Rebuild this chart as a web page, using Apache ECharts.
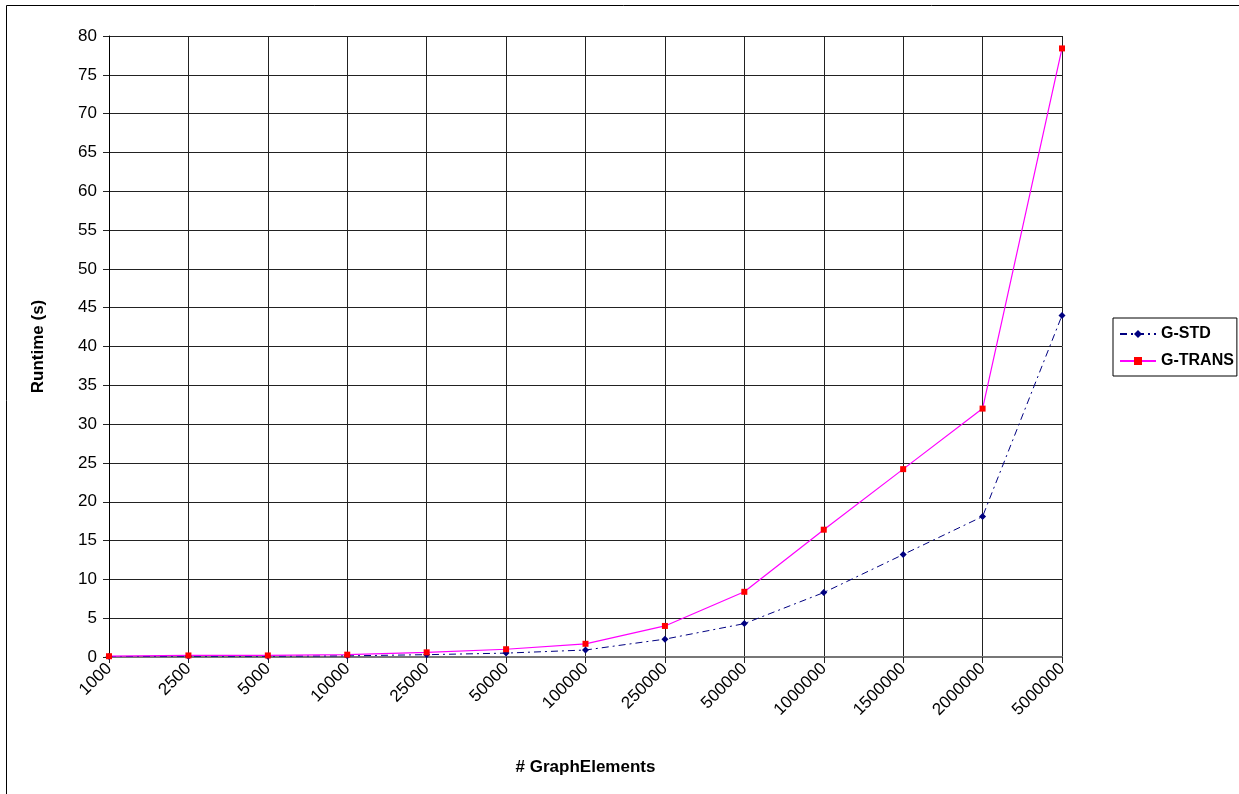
<!DOCTYPE html>
<html>
<head>
<meta charset="utf-8">
<script src="https://cdn.jsdelivr.net/npm/echarts@6/dist/echarts.min.js"></script>
<style>html,body{margin:0;padding:0;background:#fff}#c{width:1239px;height:794px}</style>
</head>
<body>
<div id="c"></div>
<script>
const categories = ['1000','2500','5000','10000','25000','50000','100000','250000','500000','1000000','1500000','2000000','5000000'];
const gStd = [0.05, 0.1, 0.1, 0.15, 0.3, 0.5, 0.9, 2.3, 4.3, 8.3, 13.2, 18.1, 44.0];
const gTrans = [0.1, 0.2, 0.2, 0.3, 0.6, 1.0, 1.7, 4.0, 8.4, 16.4, 24.2, 32.0, 78.4];

const chart = echarts.init(document.getElementById('c'));
const font = 'Liberation Sans, Arial, sans-serif';
chart.setOption({
  animation: false,
  graphic: [{
    type: 'rect', shape: {x: 6.5, y: 5.5, width: 1240, height: 800},
    style: {fill: 'none', stroke: '#000', lineWidth: 1}, silent: true
  }],
  grid: {left: 109, right: 177, top: 36, bottom: 137},
  legend: {
    orient: 'vertical', left: 1113, top: 318,
    borderColor: '#000', borderWidth: 1, padding: [8, 3, 7, 6],
    itemGap: 11, itemWidth: 36, itemHeight: 10,
    textStyle: {fontFamily: font, fontWeight: 'bold', fontSize: 16, color: '#000'},
    data: ['G-STD', 'G-TRANS']
  },
  xAxis: {
    type: 'category', data: categories, boundaryGap: false,
    name: '# GraphElements', nameLocation: 'middle', nameGap: 102,
    nameTextStyle: {fontFamily: font, fontWeight: 'bold', fontSize: 17, color: '#000'},
    axisLine: {lineStyle: {color: '#777', width: 2}},
    axisTick: {show: true, length: 6, lineStyle: {color: '#222'}},
    axisLabel: {rotate: 45, fontFamily: font, fontSize: 17, color: '#000', margin: 9, interval: 0},
    splitLine: {show: true, lineStyle: {color: '#222', width: 1}}
  },
  yAxis: {
    type: 'value', min: 0, max: 80, interval: 5,
    name: 'Runtime (s)', nameLocation: 'middle', nameGap: 62, nameRotate: 90,
    nameTextStyle: {fontFamily: font, fontWeight: 'bold', fontSize: 17, color: '#000'},
    axisLine: {show: true, lineStyle: {color: '#000', width: 1}},
    axisTick: {show: true, length: 6, lineStyle: {color: '#222'}},
    axisLabel: {fontFamily: font, fontSize: 17, color: '#000', margin: 12},
    splitLine: {show: true, lineStyle: {color: '#222', width: 1}}
  },
  series: [{
    name: 'G-STD', type: 'line', data: gStd,
    symbol: 'diamond', symbolSize: 7,
    lineStyle: {color: '#000080', width: 1, type: [7, 4, 2, 4]},
    itemStyle: {color: '#000080'}
  }, {
    name: 'G-TRANS', type: 'line', data: gTrans,
    symbol: 'rect', symbolSize: 6,
    lineStyle: {color: '#FF00FF', width: 1.2},
    itemStyle: {color: '#FF0000'}
  }]
});
</script>
</body>
</html>
